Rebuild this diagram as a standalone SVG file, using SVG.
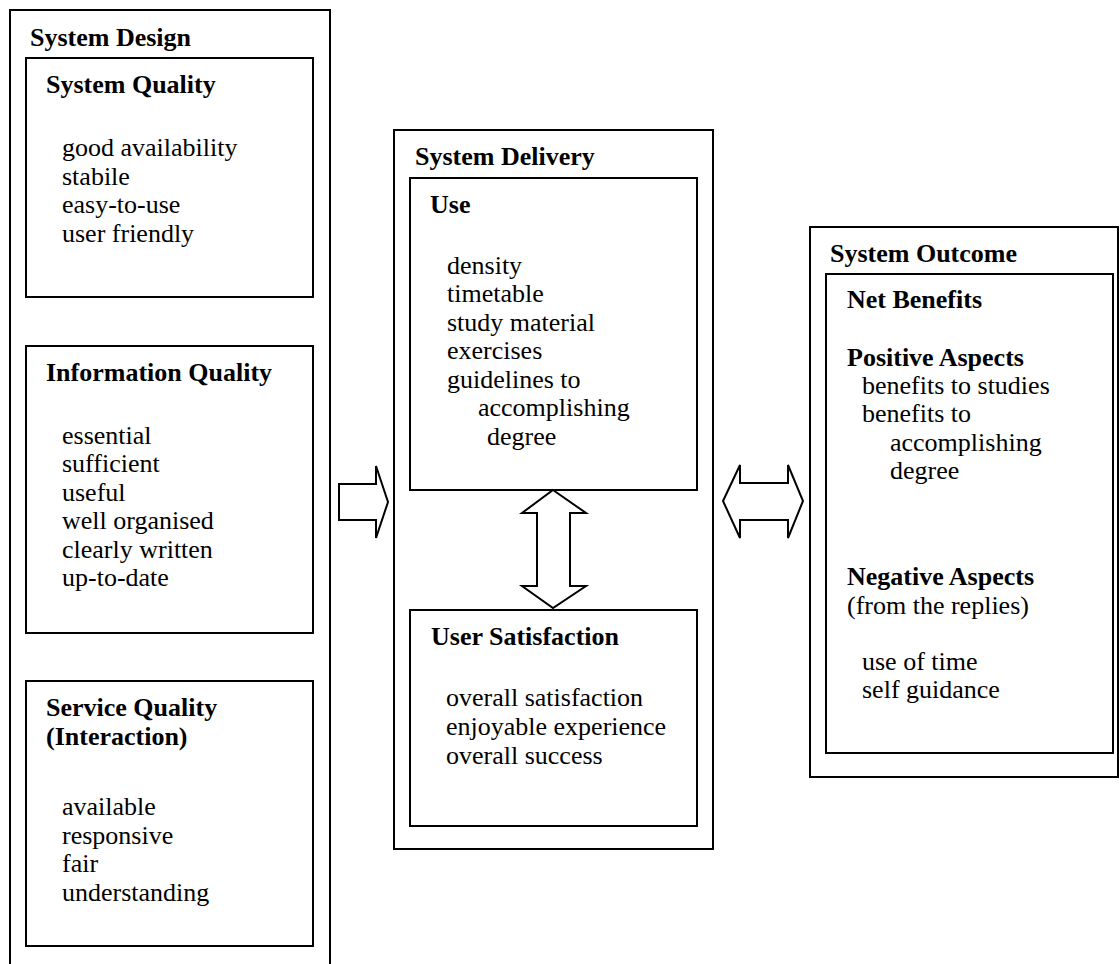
<svg xmlns="http://www.w3.org/2000/svg" width="1120" height="964" viewBox="0 0 1120 964">
<style>
.box{fill:#fff;stroke:#000;stroke-width:2}
.arr{fill:#fff;stroke:#000;stroke-width:2;stroke-linejoin:miter}
text{font-family:"Liberation Serif","Times New Roman",serif;font-size:26px;fill:#000}
.b{font-weight:bold}
</style>
<rect width="1120" height="964" fill="#fff"/>
<g id="system-design">
<rect class="box" x="10" y="10" width="320" height="970"/>
<text class="b" x="30" y="46">System Design</text>
</g>
<g id="system-quality">
<rect class="box" x="26" y="58" width="287" height="239"/>
<text class="b" x="46" y="93">System Quality</text>
<text x="62" y="156">good availability</text>
<text x="62" y="185">stabile</text>
<text x="62" y="213">easy-to-use</text>
<text x="62" y="242">user friendly</text>
</g>
<g id="information-quality">
<rect class="box" x="26" y="346" width="287" height="287"/>
<text class="b" x="46" y="381">Information Quality</text>
<text x="62" y="444">essential</text>
<text x="62" y="472">sufficient</text>
<text x="62" y="501">useful</text>
<text x="62" y="529">well organised</text>
<text x="62" y="558">clearly written</text>
<text x="62" y="586">up-to-date</text>
</g>
<g id="service-quality">
<rect class="box" x="26" y="681" width="287" height="265"/>
<text class="b" x="46" y="716">Service Quality</text>
<text class="b" x="46" y="745">(Interaction)</text>
<text x="62" y="815">available</text>
<text x="62" y="844">responsive</text>
<text x="62" y="872">fair</text>
<text x="62" y="901">understanding</text>
</g>
<g id="system-delivery">
<rect class="box" x="394" y="130" width="319" height="719"/>
<text class="b" x="415" y="165">System Delivery</text>
</g>
<g id="use">
<rect class="box" x="410" y="178" width="287" height="312"/>
<text class="b" x="430" y="213">Use</text>
<text x="447" y="274">density</text>
<text x="447" y="302">timetable</text>
<text x="447" y="331">study material</text>
<text x="447" y="359">exercises</text>
<text x="447" y="388">guidelines to</text>
<text x="478" y="416">accomplishing</text>
<text x="487" y="445">degree</text>
</g>
<g id="user-satisfaction">
<rect class="box" x="410" y="610" width="287" height="216"/>
<text class="b" x="431" y="645">User Satisfaction</text>
<text x="446" y="706">overall satisfaction</text>
<text x="446" y="735">enjoyable experience</text>
<text x="446" y="764">overall success</text>
</g>
<g id="system-outcome">
<rect class="box" x="810" y="227" width="308" height="550"/>
<text class="b" x="830" y="262">System Outcome</text>
</g>
<g id="net-benefits">
<rect class="box" x="826" y="274" width="287" height="479"/>
<text class="b" x="847" y="308">Net Benefits</text>
<text class="b" x="847" y="366">Positive Aspects</text>
<text x="862" y="394">benefits to studies</text>
<text x="862" y="422">benefits to</text>
<text x="890" y="451">accomplishing</text>
<text x="890" y="479">degree</text>
<text class="b" x="847" y="585">Negative Aspects</text>
<text x="847" y="614">(from the replies)</text>
<text x="862" y="670">use of time</text>
<text x="862" y="698">self guidance</text>
</g>
<g id="connectors">
<polygon class="arr" points="339,484 376,484 376,466 388,502 376,538 376,520 339,520"/>
<polygon class="arr" points="553,490 586,513 570,513 570,586 586,586 553,608 522,586 537,586 537,513 522,513"/>
<polygon class="arr" points="723,501 740,465 740,483 788,483 788,465 803,501 788,538 788,520 740,520 740,538"/>
</g>
</svg>
